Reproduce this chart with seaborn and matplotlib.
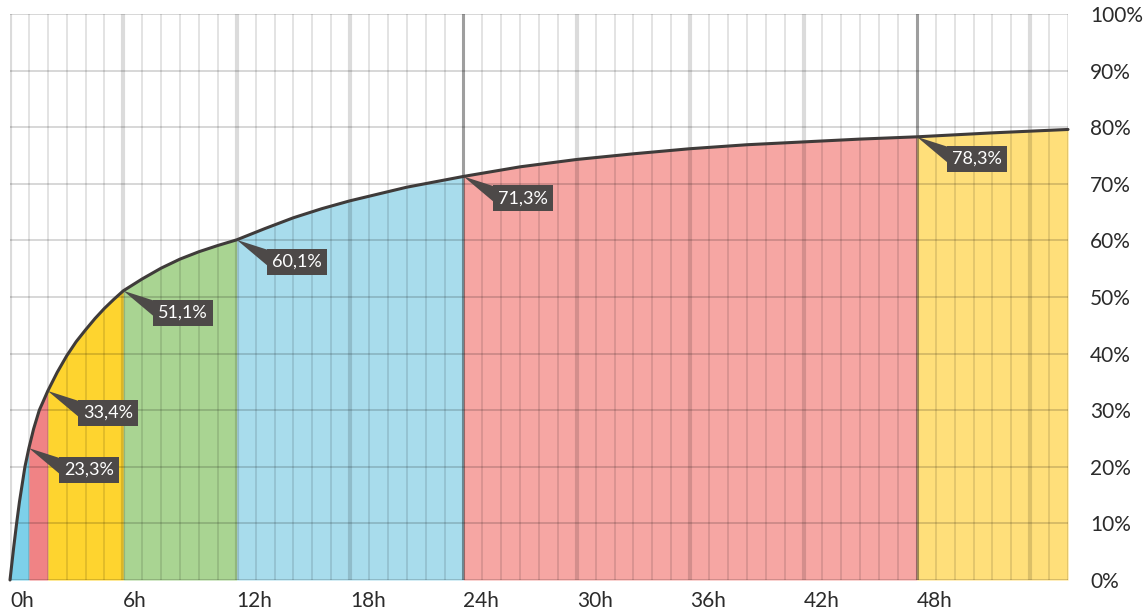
import matplotlib
matplotlib.use("Agg")
import matplotlib.pyplot as plt
from matplotlib.patches import Polygon
from matplotlib.transforms import IdentityTransform
import seaborn as sns
import numpy as np
import pandas as pd

# cumulative share vs. hours
hours = [0, 0.2, 0.35, 0.5, 0.79, 1, 1.25, 1.55, 1.75, 2, 2.5, 3, 3.5, 4,
         4.5, 5, 5.5, 6, 7, 8, 9, 10, 11, 12, 13.5, 15, 16.5, 18, 21, 24,
         27, 30, 33, 36, 39, 42, 45, 48, 52, 56]
share = [0, 5.9, 10, 13.8, 20, 23.3, 26.7, 30, 31.5, 33.4, 36.7, 39.6,
         42.1, 44.2, 46.2, 48.0, 49.6, 51.1, 53.2, 55.1, 56.7, 58.0, 59.1,
         60.1, 62.1, 64.0, 65.6, 67.0, 69.4, 71.3, 73.0, 74.3, 75.3, 76.2,
         76.9, 77.4, 77.9, 78.3, 79.0, 79.6]

band_edges = [0, 1, 2, 6, 12, 24, 48, 56]
band_colors = ['#7dd0e9', '#f08385', '#fed42f', '#a9d492', '#a8dcec',
               '#f6a6a3', '#ffdf7a']

label_hours = [1, 2, 6, 12, 24, 48]
label_text = ['23,3%', '33,4%', '51,1%', '60,1%', '71,3%', '78,3%']

xtick_hours = [0, 6, 12, 18, 24, 30, 36, 42, 48]
ytick_vals = list(range(0, 101, 10))

df = pd.DataFrame({'hours': hours, 'share': share})

sns.set_theme(style='white')
plt.rcParams['font.family'] = ['Lato', 'DejaVu Sans']

fig = plt.figure(figsize=(11.44, 6.10), dpi=100)
ax = fig.add_axes([10 / 1144, 30 / 610, 1058 / 1144, 566 / 610])
ax.set_xlim(0, 56)
ax.set_ylim(0, 100)

# coloured bands under the curve
h = np.array(hours)
s = np.array(share)
for lo, hi, col in zip(band_edges[:-1], band_edges[1:], band_colors):
    m = (h >= lo) & (h <= hi)
    ax.fill_between(h[m], 0, s[m], color=col, lw=0, zorder=1)

# grid drawn over the fills
for hr in range(0, 57):
    if hr % 24 == 0 and hr > 0:
        ax.axvline(hr, color='black', alpha=0.38, lw=2.2, zorder=2)
    elif hr % 6 == 0:
        ax.axvline(hr, color='black', alpha=0.14, lw=3, zorder=2)
    else:
        ax.axvline(hr, color='black', alpha=0.12, lw=1.3, zorder=2)
for v in ytick_vals:
    ax.axhline(v, color='black', alpha=0.17, lw=1.3, zorder=2)

sns.lineplot(data=df, x='hours', y='share', ax=ax, color='#3f3b3a',
             lw=2.2, zorder=4, clip_on=False)

# value labels: dark box plus a pointer wedge back to the curve
box_col = '#4d4948'
for hr, txt in zip(label_hours, label_text):
    yv = share[hours.index(hr)]
    ax.annotate(txt, xy=(hr, yv), xytext=(35, -22),
                textcoords='offset pixels', ha='left', va='center',
                fontsize=13, color='white', zorder=6,
                bbox=dict(boxstyle='square,pad=0.28', fc=box_col, ec='none'))
    px, py = ax.transData.transform((hr, yv))
    tri = Polygon([(px, py), (px + 31, py - 10), (px + 31, py - 26)],
                  closed=True, fc=box_col, ec='none', zorder=5,
                  transform=IdentityTransform())
    fig.add_artist(tri)

ax.set_xticks(xtick_hours)
ax.set_xticklabels(['{}h'.format(t) for t in xtick_hours], ha='left')
ax.set_yticks(ytick_vals)
ax.set_yticklabels(['{}%'.format(v) for v in ytick_vals])
ax.yaxis.tick_right()
ax.tick_params(axis='y', length=0, pad=16, labelsize=15, labelcolor='#2b2b2b')
ax.tick_params(axis='x', length=0, pad=8, labelsize=15, labelcolor='#2b2b2b')
ax.set_xlabel('')
ax.set_ylabel('')
for sp in ax.spines.values():
    sp.set_visible(False)

fig.savefig('out.png', dpi=100)
